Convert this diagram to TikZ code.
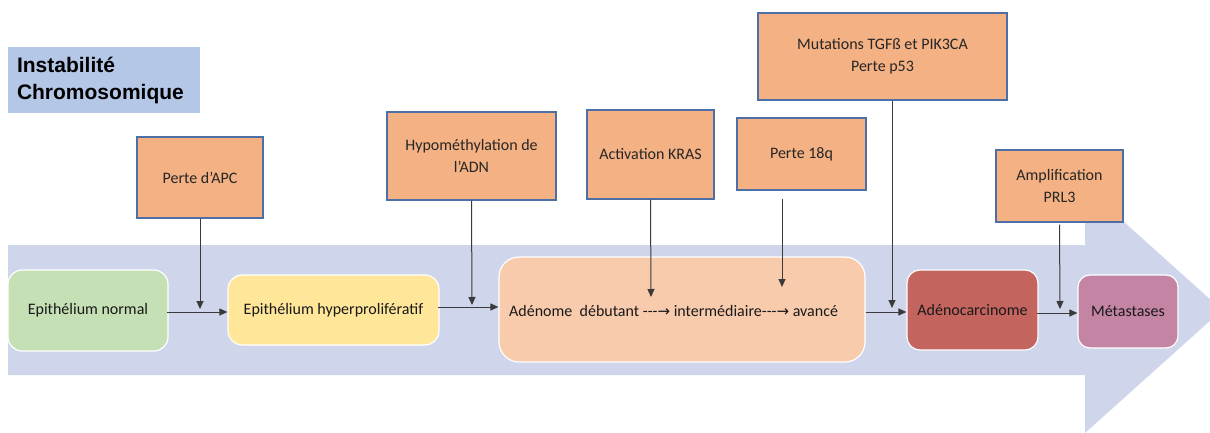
\documentclass[tikz,border=0pt]{standalone}
\usepackage{fontspec}
\setmainfont{Carlito}
\newfontfamily\headfont{Liberation Sans}
\newfontfamily\symfont{DejaVu Sans}
\usetikzlibrary{arrows.meta}

\definecolor{bandblue}{HTML}{CFD5EA}
\definecolor{headblue}{HTML}{B4C7E7}
\definecolor{eventfill}{HTML}{F4B183}
\definecolor{eventedge}{HTML}{4E6EA6}
\definecolor{normalfill}{HTML}{C5E0B4}
\definecolor{hyperfill}{HTML}{FFE699}
\definecolor{adenfill}{HTML}{F8CBAD}
\definecolor{carcfill}{HTML}{C4645F}
\definecolor{metafill}{HTML}{C484A4}
\definecolor{linkgray}{HTML}{3A3A3A}

\tikzset{
  event/.style={draw=eventedge, line width=1.2pt, fill=eventfill, inner sep=0pt,
    align=center, font=\fontsize{16}{22}\selectfont, text=black!85},
  stage/.style={draw=white, line width=1.2pt, rounded corners=14pt, inner sep=0pt,
    align=center, font=\fontsize{16}{20}\selectfont, text=black!90},
  link/.style={draw=linkgray, line width=1pt, -{Triangle[length=8pt,width=7pt]}},
}
\newcommand{\progarrow}{{\symfont\fontsize{15}{18}\selectfont →}}

\begin{document}
\begin{tikzpicture}[x=1pt,y=-1pt]
\useasboundingbox (0,0) rectangle (1210,433);
\clip (0,0) rectangle (1210,433);

% wide background arrow
\fill[bandblue] (8,245) -- (1085,245) -- (1085,187) -- (1222,310)
  -- (1085,433) -- (1085,375) -- (8,375) -- cycle;

% title
\node (inst) [fill=headblue, minimum width=192pt, minimum height=66pt, inner sep=0pt,
  text width=174pt, align=left, font=\headfont\bfseries\fontsize{21}{27}\selectfont]
  at (104,80) {Instabilité\\Chromosomique};

% genetic events
\node (apc)  [event, minimum width=126pt, minimum height=81pt] at (200,177.5) {Perte d’APC};
\node (hypo) [event, minimum width=169pt, minimum height=88pt] at (471.5,156) {Hypométhylation de\\l’ADN};
\node (kras) [event, minimum width=127pt, minimum height=89pt] at (650.5,154.5) {Activation KRAS};
\node (p18)  [event, minimum width=129pt, minimum height=72pt] at (801.5,154) {Perte 18q};
\node (mut)  [event, minimum width=249pt, minimum height=87pt] at (882.5,56.5) {Mutations TGFß et PIK3CA\\Perte p53};
\node (prl)  [event, minimum width=127pt, minimum height=72pt] at (1059.5,186) {Amplification\\PRL3};

% stages
\node (norm)  [stage, fill=normalfill, minimum width=160pt, minimum height=81pt] at (88,310.5) {Epithélium normal};
\node (hyper) [stage, fill=hyperfill, minimum width=211pt, minimum height=70pt] at (333.5,310) {Epithélium hyperprolifératif};
\node (aden)  [stage, fill=adenfill, rounded corners=20pt, minimum width=366pt, minimum height=105pt] at (682,309.5) {};
\node (adentxt) [anchor=west, inner sep=0pt, font=\fontsize{16}{20}\selectfont, text=black!90]
  at (509,311) {Adénome\ \ débutant -{}-{}-\progarrow\ intermédiaire-{}-{}-\progarrow\ avancé};
\node (carc)  [stage, fill=carcfill, rounded corners=13pt, minimum width=131pt, minimum height=80pt] at (972.5,310) {Adénocarcinome};
\node (meta)  [stage, fill=metafill, rounded corners=12pt, minimum width=100pt, minimum height=73pt] at (1128,311.5) {Métastases};

% junction points on the progression line
\coordinate (j1) at (200,309);
\coordinate (j2) at (472,305);
\coordinate (j3) at (651,297);
\coordinate (j4) at (782,287);
\coordinate (j5) at (892,308);
\coordinate (j6) at (1060,309);

% progression connectors
\draw[link] ([xshift=-2pt]norm.east |- 0,312) -- (hyper.west |- 0,312);
\draw[link] ([xshift=-2pt]hyper.east |- 0,307) -- (aden.west |- 0,307);
\draw[link] (aden.east |- 0,312) -- (carc.west |- 0,312);
\draw[link] ([xshift=-2pt]carc.east |- 0,313) -- (meta.west |- 0,313);

% event connectors
\draw[link] (apc.south) -- (j1);
\draw[link] (hypo.south) -- (j2);
\draw[link] (kras.south) -- (j3);
\draw[link] ([yshift=-8pt]p18.south -| j4) -- (j4);
\draw[link] (mut.south -| j5) -- (j5);
\draw[link] ([yshift=-2pt]prl.south) -- (j6);
\end{tikzpicture}
\end{document}
